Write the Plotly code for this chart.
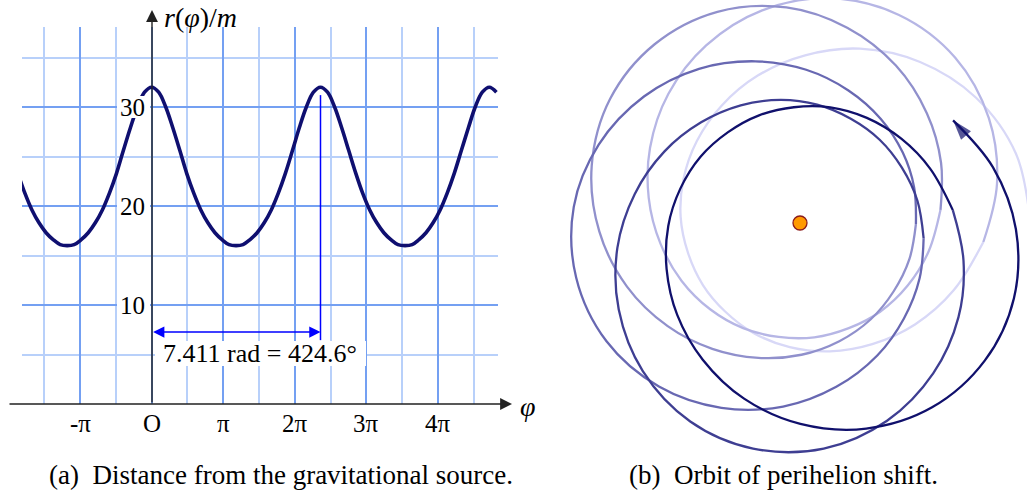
import math
import plotly.graph_objects as go

# ---------------- data ----------------
PERIOD = 7.411          # rad between two maxima of r(phi)
PERIOD_DEG = 424.6

phi = [
    -5.87, -5.56, -5.25, -4.94, -4.63, -4.32, -4.01, -3.71, -3.40, -3.09,
    -2.78, -2.47, -2.16, -1.85, -1.54, -1.24, -0.93, -0.62, -0.31,
    0.00, 0.31, 0.62, 0.93, 1.24, 1.54, 1.85, 2.16, 2.47, 2.78, 3.09, 3.40,
    3.71, 4.01, 4.32, 4.63, 4.94, 5.25, 5.56, 5.87, 6.18, 6.48, 6.79, 7.10,
    7.41, 7.72, 8.03, 8.34, 8.65, 8.96, 9.26, 9.57, 9.88, 10.19, 10.50, 10.81,
    11.12, 11.43, 11.73, 12.04, 12.35, 12.66, 12.97, 13.28, 13.59, 13.90, 14.20, 14.51,
    14.82, 15.13, 15.44, 15.75, 16.06, 16.37, 16.67, 16.98, 17.29, 17.60, 17.91, 18.22,
    18.53, 18.84, 19.15, 19.45, 19.76, 20.07, 20.38, 20.69, 21.00, 21.31, 21.62, 21.92,
    22.23, 22.54, 22.85, 23.16, 23.47, 23.78, 24.09, 24.39, 24.70, 25.01, 25.32, 25.63,
    25.94, 26.25, 26.56, 26.86, 27.17, 27.48, 27.79, 28.10, 28.41, 28.72, 29.03, 29.34,
    29.64, 29.95, 30.26, 30.57, 30.88, 31.19, 31.50, 31.81, 32.11, 32.42, 32.73, 33.04,
    33.35, 33.66, 33.97, 34.28, 34.58, 34.89, 35.20, 35.51, 35.82, 36.13, 36.44, 36.75,
    37.06, 37.36, 37.67, 37.98, 38.29,
]

r = [
    23.3, 21.3, 19.6, 18.3, 17.3, 16.6, 16.1, 16.0, 16.1, 16.6, 17.3, 18.3, 19.6, 21.3, 23.3, 25.6, 27.9, 30.0, 31.5,
    32.0, 31.5, 30.0, 27.9, 25.6, 23.3, 21.3, 19.6, 18.3, 17.3, 16.6, 16.1, 16.0, 16.1, 16.6, 17.3, 18.3, 19.6, 21.3, 23.3, 25.6, 27.9, 30.0, 31.5,
    32.0, 31.5, 30.0, 27.9, 25.6, 23.3, 21.3, 19.6, 18.3, 17.3, 16.6, 16.1, 16.0, 16.1, 16.6, 17.3, 18.3, 19.6, 21.3, 23.3, 25.6, 27.9, 30.0, 31.5,
    32.0, 31.5, 30.0, 27.9, 25.6, 23.3, 21.3, 19.6, 18.3, 17.3, 16.6, 16.1, 16.0, 16.1, 16.6, 17.3, 18.3, 19.6, 21.3, 23.3, 25.6, 27.9, 30.0, 31.5,
    32.0, 31.5, 30.0, 27.9, 25.6, 23.3, 21.3, 19.6, 18.3, 17.3, 16.6, 16.1, 16.0, 16.1, 16.6, 17.3, 18.3, 19.6, 21.3, 23.3, 25.6, 27.9, 30.0, 31.5,
    32.0, 31.5, 30.0, 27.9, 25.6, 23.3, 21.3, 19.6, 18.3, 17.3, 16.6, 16.1, 16.0, 16.1, 16.6, 17.3, 18.3, 19.6, 21.3, 23.3, 25.6, 27.9, 30.0, 31.5,
    32.0, 31.5, 30.0, 27.9, 25.6,
]
assert len(phi) == len(r)

x_tick_vals = [-math.pi, 0, math.pi, 2 * math.pi, 3 * math.pi, 4 * math.pi]
x_tick_text = ["-π", "O", "π", "2π", "3π", "4π"]
y_tick_vals = [10, 20, 30]

loop_colors = ["rgb(216,216,247)", "rgb(182,182,229)", "rgb(144,144,204)",
               "rgb(104,104,178)", "rgb(62,62,146)", "rgb(16,16,108)"]

# ---------------- geometry helpers ----------------
W, H = 1027, 496
def px(x):  # pixel -> paper x
    return x / W
def py(y):  # pixel (from top) -> paper y
    return (H - y) / H

FONT = "Liberation Serif"
NAVY = "#0f0f70"

fig = go.Figure()

# ---------------- left panel ----------------
left_idx = [i for i, p in enumerate(phi) if p <= 15.2]
fig.add_trace(go.Scatter(
    x=[phi[i] for i in left_idx], y=[r[i] for i in left_idx],
    mode="lines", line=dict(color=NAVY, width=3.6, shape="spline", smoothing=1.0),
    cliponaxis=False, hoverinfo="skip", xaxis="x", yaxis="y"))

x0_px, x1_px, y0_px, y1_px = 22, 498, 27, 404
orig_px = 151.6
pi_px = 71.6
yunit = 9.9
fig.update_layout(
    xaxis=dict(domain=[px(x0_px), px(x1_px)],
               range=[(x0_px - orig_px) / pi_px * math.pi, (x1_px - orig_px) / pi_px * math.pi],
               tick0=0, dtick=math.pi, showgrid=True, gridcolor="#74a0f2", gridwidth=1.5,
               minor=dict(tick0=0, dtick=math.pi / 2, showgrid=True, gridcolor="#b8d0fa", gridwidth=1.5),
               showticklabels=False, ticks="", zeroline=False, showline=False, fixedrange=True),
    yaxis=dict(domain=[py(y1_px), py(y0_px)], range=[0, (y1_px - y0_px) / yunit],
               tick0=0, dtick=10, showgrid=True, gridcolor="#74a0f2", gridwidth=1.5,
               minor=dict(tick0=0, dtick=5, showgrid=True, gridcolor="#b8d0fa", gridwidth=1.5),
               showticklabels=False, ticks="", zeroline=False, showline=False, fixedrange=True),
)

shapes = []
# white label boxes
for yv in y_tick_vals:
    yc = y1_px - yv * yunit
    shapes.append(dict(type="rect", xref="paper", yref="paper", layer="above",
                       x0=px(117), x1=px(150), y0=py(yc + 11), y1=py(yc - 11),
                       fillcolor="white", line=dict(width=0)))
shapes.append(dict(type="rect", xref="paper", yref="paper", layer="above",
                   x0=px(155), x1=px(366), y0=py(366), y1=py(341),
                   fillcolor="white", line=dict(width=0)))
# vertical marker of the period
shapes.append(dict(type="line", xref="x", yref="y", layer="above",
                   x0=PERIOD, x1=PERIOD, y0=6.45, y1=31.2,
                   line=dict(color="#0000ff", width=1.5)))

annotations = []
# axes with arrows
annotations.append(dict(xref="paper", yref="paper", x=px(152), y=py(10), ax=0, ay=394,
                        text="", showarrow=True, arrowhead=2, arrowsize=1.7, arrowwidth=1.4,
                        arrowcolor="#222222"))
annotations.append(dict(xref="paper", yref="paper", x=px(512), y=py(404), ax=-504, ay=0,
                        text="", showarrow=True, arrowhead=2, arrowsize=1.7, arrowwidth=1.4,
                        arrowcolor="#222222"))
# period double arrow
annotations.append(dict(xref="x", yref="y", x=PERIOD, y=7.27, axref="x", ayref="y", ax=0, ay=7.27,
                        text="", showarrow=True, arrowside="end+start", arrowhead=2, startarrowhead=2,
                        arrowsize=1.5, startarrowsize=1.5, arrowwidth=1.5, arrowcolor="#0000ff"))
annotations.append(dict(xref="paper", yref="paper", x=px(259.5), y=py(353),
                        text=f"{PERIOD} rad = {PERIOD_DEG}°", showarrow=False,
                        font=dict(family=FONT, size=26, color="black"),
                        xanchor="center", yanchor="middle"))
# tick labels
for v, t in zip(x_tick_vals, x_tick_text):
    annotations.append(dict(xref="x", yref="paper", x=v, y=py(423), text=t, showarrow=False,
                            font=dict(family=FONT, size=25, color="black"),
                            xanchor="center", yanchor="middle"))
for v in y_tick_vals:
    annotations.append(dict(xref="paper", yref="y", x=px(147), y=v, text=str(v), showarrow=False,
                            font=dict(family=FONT, size=25, color="black"),
                            xanchor="right", yanchor="middle"))
# axis titles
annotations.append(dict(xref="paper", yref="paper", x=px(162), y=py(18),
                        text="<i>r</i>(<i>φ</i>)/<i>m</i>", showarrow=False,
                        font=dict(family=FONT, size=28, color="black"),
                        xanchor="left", yanchor="middle"))
annotations.append(dict(xref="paper", yref="paper", x=px(528), y=py(406),
                        text="<i>φ</i>", showarrow=False,
                        font=dict(family=FONT, size=28, color="black"),
                        xanchor="center", yanchor="middle"))
# captions
annotations.append(dict(xref="paper", yref="paper", x=px(280.5), y=py(475),
                        text="(a)\u00a0\u00a0Distance from the gravitational source.", showarrow=False,
                        font=dict(family=FONT, size=27, color="black"),
                        xanchor="center", yanchor="middle"))
annotations.append(dict(xref="paper", yref="paper", x=px(783.5), y=py(475),
                        text="(b)\u00a0\u00a0Orbit of perihelion shift.", showarrow=False,
                        font=dict(family=FONT, size=27, color="black"),
                        xanchor="center", yanchor="middle"))

# ---------------- right panel: orbit (polar -> plane) ----------------
orb = [i for i, p in enumerate(phi) if p >= 0]
orb_phi = [phi[i] for i in orb]
orb_r = [r[i] for i in orb]
orb_x = [rr * math.cos(pp) for rr, pp in zip(orb_r, orb_phi)]
orb_y = [rr * math.sin(pp) for rr, pp in zip(orb_r, orb_phi)]
# split at each full turn (2*pi)
bounds = [0]
for n in range(1, 6):
    target = 2 * math.pi * n
    bounds.append(min(range(len(orb_phi)), key=lambda k: abs(orb_phi[k] - target)))
bounds.append(len(orb_phi) - 1)
for s in range(6):
    a, b = bounds[s], bounds[s + 1]
    fig.add_trace(go.Scatter(
        x=orb_x[a:b + 1], y=orb_y[a:b + 1],
        mode="lines", line=dict(color=loop_colors[s], width=2.3, shape="spline", smoothing=1.0),
        cliponaxis=False, hoverinfo="skip", xaxis="x2", yaxis="y2"))
# arrow head at the end of the orbit
fig.add_trace(go.Scatter(
    x=orb_x[-2:], y=orb_y[-2:], mode="markers",
    marker=dict(symbol="arrow", size=[0, 21], angleref="previous", color=loop_colors[-1],
                line=dict(width=0)),
    cliponaxis=False, hoverinfo="skip", xaxis="x2", yaxis="y2"))
# central body
fig.add_trace(go.Scatter(
    x=[0], y=[0], mode="markers",
    marker=dict(size=14, color="#ff9900", line=dict(color="#8b1a1a", width=1.3)),
    cliponaxis=False, hoverinfo="skip", xaxis="x2", yaxis="y2"))

cx, cy, s = 800, 223, 7.2   # sun position (px) and px per unit
xl, xr = 556, 1027
fig.update_layout(
    xaxis2=dict(domain=[px(xl), 1.0], range=[(xl - cx) / s, (xr - cx) / s], visible=False,
                showgrid=False, zeroline=False, fixedrange=True),
    yaxis2=dict(domain=[0.0, 1.0], range=[-(H - cy) / s, cy / s], visible=False,
                showgrid=False, zeroline=False, fixedrange=True),
)

fig.update_layout(width=W, height=H, margin=dict(l=0, r=0, t=0, b=0),
                  paper_bgcolor="white", plot_bgcolor="white", showlegend=False,
                  shapes=shapes, annotations=annotations)

fig.write_html("out.html")
